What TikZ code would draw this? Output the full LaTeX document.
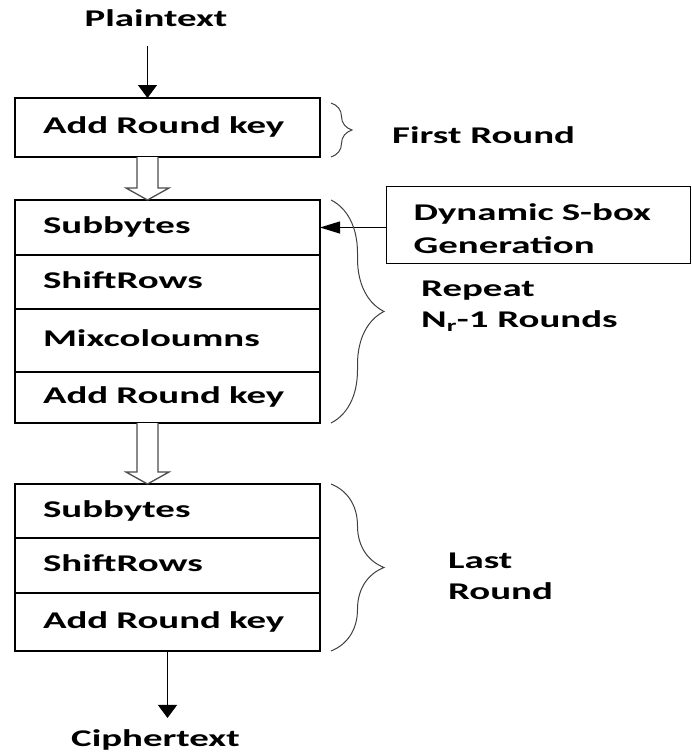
\documentclass[tikz,border=0pt]{standalone}
\usepackage{fontspec}
\setmainfont{Carlito}[FakeStretch=1.62]
\usepackage{tikz}
\usetikzlibrary{decorations.pathreplacing,positioning,calc,arrows.meta}
\tikzset{
  cell/.style={draw, line width=1.1pt, outer sep=0pt, inner xsep=28pt, text width=249pt, align=left,
    text height=16pt, text depth=4pt, font=\bfseries\fontsize{24}{29}\selectfont},
  lbl/.style={inner sep=0pt, align=left, font=\bfseries\fontsize{24}{31}\selectfont},
  arrv/.style={line width=1.1pt, -{Triangle[length=13pt,width=19pt]}},
  arrh/.style={line width=1.1pt, -{Triangle[length=20pt,width=12pt]}},
  hollow/.style={draw=black!70, line width=1.3pt, fill=white},
  brc/.style={decorate, decoration={brace, amplitude=#1}, draw=black!75, line width=1pt}
}
\newcommand{\fatarrow}[2]{%
  \draw[hollow] ($(mid |- #1.south)+(-10.5,0)$) -- ($(mid |- #2.north)+(-10.5,-12)$) -- ++(-11,0)
    -- (mid |- #2.north) -- ++(21.5,-12) -- ++(-11,0) -- ($(mid |- #1.south)+(10.5,0)$);}

\begin{document}
\begin{tikzpicture}[x=1pt, y=-1pt]
\useasboundingbox (0,0) rectangle (692,753);
\coordinate (mid) at (147.5,0);
\node[lbl, anchor=base] (plain) at (156,26) {Plaintext};
\node[cell, minimum height=59pt, anchor=north west] (ark0) at (15,98) {Add Round key};
\node[cell, minimum height=55pt, anchor=north west] (sb1) at (15,200) {Subbytes};
\node[cell, minimum height=54pt, below=0pt of sb1] (sr1) {ShiftRows};
\node[cell, minimum height=63pt, below=0pt of sr1] (mc1) {Mixcoloumns};
\node[cell, minimum height=51pt, below=0pt of mc1] (ark1) {Add Round key};
\node[cell, minimum height=54pt, anchor=north west] (sb2) at (15,484) {Subbytes};
\node[cell, minimum height=55pt, below=0pt of sb2] (sr2) {ShiftRows};
\node[cell, minimum height=58pt, below=0pt of sr2] (ark2) {Add Round key};
\node[lbl, anchor=base] (cipher) at (155.5,746) {Ciphertext};
\node[draw, line width=1.1pt, inner xsep=27pt, text width=250pt, align=left, minimum height=77pt,
  anchor=north west, font=\bfseries\fontsize{24}{33}\selectfont] (sbox) at (386,186) {\rule{0pt}{25pt}Dynamic S-box\\Generation};
\draw[arrv, shorten <=20pt] (plain.south -| mid) -- (mid |- ark0.north);
\fatarrow{ark0}{sb1}
\fatarrow{ark1}{sb2}
\draw[arrv, shorten >=11pt] (ark2.south) -- (ark2.south |- cipher.north);
\draw[arrh] (sbox.west |- sb1.east) -- (sb1.east);
\draw[brc=21pt] ([xshift=11pt,yshift=-5pt]ark0.north east) -- ([xshift=11pt]ark0.south east);
\draw[brc=53pt] ([xshift=11pt]sb1.north east) -- ([xshift=11pt]ark1.south east);
\draw[brc=53pt] ([xshift=11pt]sb2.north east) -- ([xshift=11pt]ark2.south east);
\node[lbl, anchor=base west] (first) at (392,143) {First Round};
\node[lbl, anchor=west] (rep) at (421,306) {Repeat\\N\textsubscript{r}-1 Rounds};
\node[lbl, anchor=west] (last) at (448,576) {Last\\Round};
\end{tikzpicture}
\end{document}
